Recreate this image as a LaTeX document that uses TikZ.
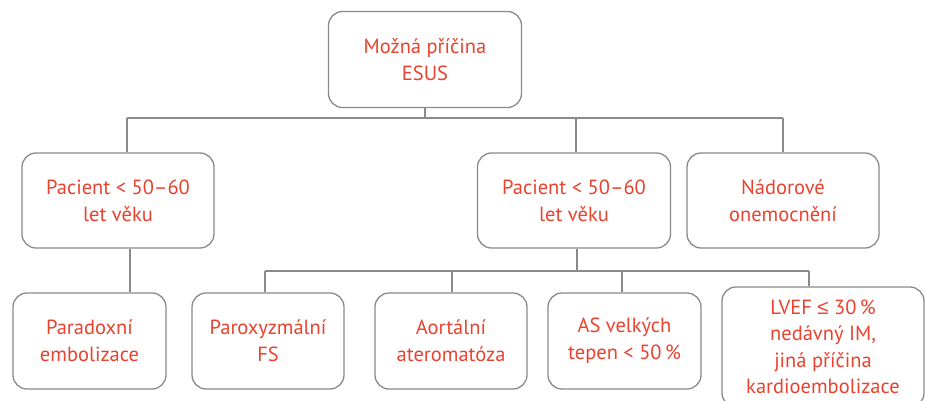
\documentclass[tikz,border=0pt]{standalone}
\usepackage{fontspec}
\setmainfont{PT Sans}
\newfontfamily\symfont{Liberation Sans}
\definecolor{txtred}{HTML}{E8432F}
\definecolor{linegray}{HTML}{8A8A8A}
\begin{document}
\begin{tikzpicture}[x=1pt,y=-1pt,
  box/.style={draw=linegray, line width=1.3pt, rounded corners=14pt, fill=white,
    text=txtred, align=center, font=\fontsize{20.5}{27}\selectfont, inner sep=0pt},
  conn/.style={draw=linegray, line width=1.3pt}]
\useasboundingbox (0,0) rectangle (925,400);
% row 1
\node[box, minimum width=193pt, minimum height=96pt] (top) at (425,59.5) {Možná příčina\\ESUS};
% row 2
\node[box, minimum width=192pt, minimum height=95pt] (p1) at (118,200.5) {Pacient < 50–60\\let věku};
\node[box, minimum width=193pt, minimum height=95pt] (p2) at (574,200.5) {Pacient < 50–60\\let věku};
\node[box, minimum width=192pt, minimum height=95pt] (n3) at (783,200.5) {Nádorové\\onemocnění};
% row 3
\node[box, minimum width=153pt, minimum height=96pt] (r1) at (89.5,341) {Paradoxní\\embolizace};
\node[box, minimum width=152pt, minimum height=96pt] (r2) at (268,341) {Paroxyzmální\\FS};
\node[box, minimum width=152pt, minimum height=96pt] (r3) at (451,341) {Aortální\\ateromatóza};
\node[box, minimum width=153pt, minimum height=96pt] (r4) at (624.5,341) {AS velkých\\tepen < 50\,\%};
\node[box, minimum width=202pt, minimum height=120pt, font=\fontsize{20.5}{26.5}\selectfont] (r5) at (823,347) {LVEF {\symfont ≤} 30\,\%\\nedávný IM,\\jiná příčina\\kardioembolizace};
% bus coordinates
\coordinate (b1l) at (127,118);
\coordinate (b1m) at (576,118);
\coordinate (b1r) at (783,118);
\coordinate (lft) at (130,0);
\coordinate (b2l) at (265,271);
\coordinate (b2a) at (452,271);
\coordinate (b2m) at (577,271);
\coordinate (b2b) at (622,271);
\coordinate (b2r) at (809,271);
% connectors
\draw[conn] (top.south) -- (top.south |- b1l);
\draw[conn] (b1l) -- (b1r);
\draw[conn] (b1l) -- (b1l |- p1.north);
\draw[conn] (b1m) -- (b1m |- p2.north);
\draw[conn] (b1r) -- (n3.north);
\draw[conn] (lft |- p1.south) -- (lft |- r1.north);
\draw[conn] (b2m |- p2.south) -- (b2m);
\draw[conn] (b2l) -- (b2r);
\draw[conn] (b2l) -- (b2l |- r2.north);
\draw[conn] (b2a) -- (b2a |- r3.north);
\draw[conn] (b2b) -- (b2b |- r4.north);
\draw[conn] (b2r) -- (b2r |- r5.north);
\end{tikzpicture}
\end{document}
